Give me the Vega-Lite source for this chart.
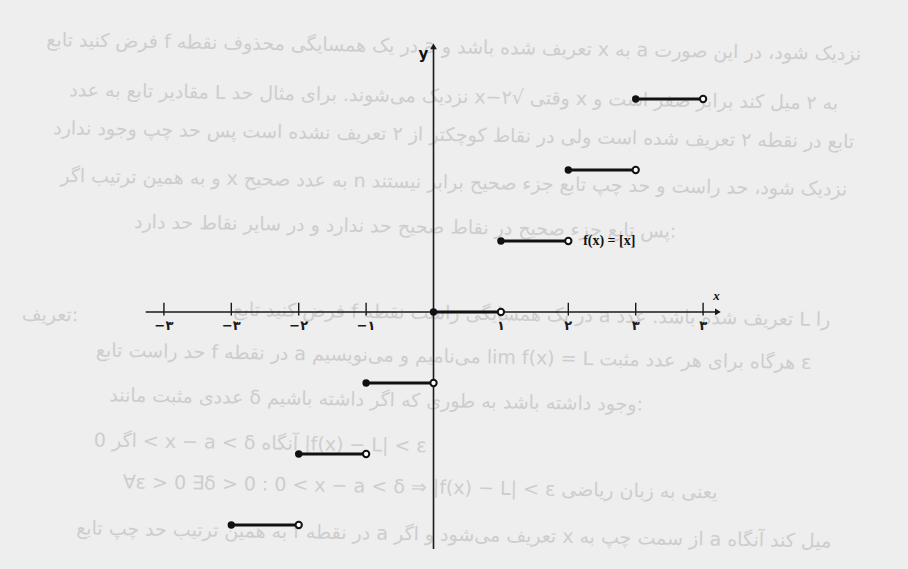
{
  "$schema": "https://vega.github.io/schema/vega-lite/v6.json",
  "width": 908,
  "height": 569,
  "padding": 0,
  "autosize": {"type": "none"},
  "background": "#eeeeee",
  "config": {"view": {"stroke": null}},
  "datasets": {
    "steps": [
      {"x": -3, "x2": -2, "y": -3},
      {"x": -2, "x2": -1, "y": -2},
      {"x": -1, "x2": 0, "y": -1},
      {"x": 0, "x2": 1, "y": 0},
      {"x": 1, "x2": 2, "y": 1},
      {"x": 2, "x2": 3, "y": 2},
      {"x": 3, "x2": 4, "y": 3}
    ],
    "axes": [
      {"x": -4.27, "x2": 4.2, "y": 0, "y2": 0},
      {"x": 0, "x2": 0, "y": -3.34, "y2": 3.72}
    ],
    "arrows": [
      {"x": 4.22, "y": 0, "shape": "triangle-right"},
      {"x": 0, "y": 3.74, "shape": "triangle-up"}
    ],
    "ticks": [
      {"x": -4, "label": "−۳"},
      {"x": -3, "label": "−۳"},
      {"x": -2, "label": "−۲"},
      {"x": -1, "label": "−۱"},
      {"x": 1, "label": "۱"},
      {"x": 2, "label": "۲"},
      {"x": 3, "label": "۳"},
      {"x": 4, "label": "۳"}
    ],
    "page": [
      {"x": 0.3, "y": 3.73, "t": "فرض کنید تابع f در یک همسایگی محذوف نقطه a تعریف شده باشد و x به a نزدیک شود، در این صورت"},
      {"x": 0.3, "y": 3.03, "t": "مقادیر تابع به عدد L نزدیک می‌شوند. برای مثال حد x−۲√ وقتی x به ۲ میل کند برابر صفر است و"},
      {"x": 0.3, "y": 2.49, "t": "تابع در نقطه ۲ تعریف شده است ولی در نقاط کوچکتر از ۲ تعریف نشده است پس حد چپ وجود ندارد"},
      {"x": 0.3, "y": 1.82, "t": "و به همین ترتیب اگر x به عدد صحیح n نزدیک شود، حد راست و حد چپ تابع جزء صحیح برابر نیستند"},
      {"x": -0.42, "y": 1.2, "t": "پس تابع جزء صحیح در نقاط صحیح حد ندارد و در سایر نقاط حد دارد:"},
      {"x": -5.69, "y": -0.04, "t": "تعریف:"},
      {"x": 1.46, "y": -0.04, "t": "فرض کنید تابع f در یک همسایگی راست نقطه a تعریف شده باشد. عدد L را"},
      {"x": 0.3, "y": -0.63, "t": "حد راست تابع f در نقطه a می‌نامیم و می‌نویسیم lim f(x) = L هرگاه برای هر عدد مثبت ε"},
      {"x": -0.85, "y": -1.24, "t": "عددی مثبت مانند δ وجود داشته باشد به طوری که اگر داشته باشیم:"},
      {"x": -2.57, "y": -1.85, "t": "اگر 0 < x − a < δ آنگاه |f(x) − L| < ε"},
      {"x": -0.2, "y": -2.47, "t": "∀ε > 0 ∃δ > 0 : 0 < x − a < δ ⇒ |f(x) − L| < ε یعنی به زبان ریاضی"},
      {"x": 0.3, "y": -3.14, "t": "به همین ترتیب حد چپ تابع f در نقطه a تعریف می‌شود و اگر x از سمت چپ به a میل کند آنگاه"}
    ],
    "labels": [
      {"x": 2.22, "y": 1, "t": "f(x) = [x]"}
    ]
  },
  "encoding": {
    "x": {"type": "quantitative", "scale": {"domain": [-6.432, 7.04], "nice": false, "zero": false}, "axis": null},
    "y": {"type": "quantitative", "scale": {"domain": [-3.62, 4.394], "nice": false, "zero": false}, "axis": null}
  },
  "layer": [
    {
      "data": {"name": "page"},
      "mark": {"type": "text", "font": "DejaVu Sans", "fontSize": 19, "color": "#cdcdcd", "align": "center", "baseline": "middle", "angle": 1.0},
      "encoding": {
        "x": {"field": "x", "type": "quantitative"},
        "y": {"field": "y", "type": "quantitative"},
        "text": {"field": "t"}
      }
    },
    {
      "data": {"name": "axes"},
      "mark": {"type": "rule", "color": "#1a1a1a", "strokeWidth": 1.6},
      "encoding": {
        "x": {"field": "x", "type": "quantitative"},
        "x2": {"field": "x2"},
        "y": {"field": "y", "type": "quantitative"},
        "y2": {"field": "y2"}
      }
    },
    {
      "data": {"name": "arrows"},
      "mark": {"type": "point", "filled": true, "color": "#1a1a1a", "size": 45, "opacity": 1},
      "encoding": {
        "x": {"field": "x", "type": "quantitative"},
        "y": {"field": "y", "type": "quantitative"},
        "shape": {"field": "shape", "type": "nominal", "scale": null}
      }
    },
    {
      "data": {"name": "ticks"},
      "transform": [{"filter": "datum.x != 1"}],
      "mark": {"type": "rule", "color": "#1a1a1a", "strokeWidth": 1.4},
      "encoding": {
        "x": {"field": "x", "type": "quantitative"},
        "y": {"datum": -0.05, "type": "quantitative"},
        "y2": {"datum": 0.13}
      }
    },
    {
      "data": {"name": "ticks"},
      "mark": {"type": "text", "font": "DejaVu Sans", "fontSize": 13, "fontWeight": "bold", "color": "#1a1a1a", "align": "center", "baseline": "middle"},
      "encoding": {
        "x": {"field": "x", "type": "quantitative"},
        "y": {"datum": -0.2, "type": "quantitative"},
        "text": {"field": "label"}
      }
    },
    {
      "data": {"name": "steps"},
      "mark": {"type": "rule", "color": "#111111", "strokeWidth": 3},
      "encoding": {
        "x": {"field": "x", "type": "quantitative"},
        "x2": {"field": "x2"},
        "y": {"field": "y", "type": "quantitative"}
      }
    },
    {
      "data": {"name": "steps"},
      "mark": {"type": "circle", "color": "#111111", "size": 55, "opacity": 1},
      "encoding": {
        "x": {"field": "x", "type": "quantitative"},
        "y": {"field": "y", "type": "quantitative"}
      }
    },
    {
      "data": {"name": "steps"},
      "mark": {"type": "point", "shape": "circle", "filled": false, "fill": "#ffffff", "fillOpacity": 1, "stroke": "#111111", "strokeWidth": 2, "size": 40, "opacity": 1},
      "encoding": {
        "x": {"field": "x2", "type": "quantitative"},
        "y": {"field": "y", "type": "quantitative"}
      }
    },
    {
      "data": {"name": "labels"},
      "mark": {"type": "text", "font": "Liberation Serif", "fontSize": 14, "fontWeight": "bold", "color": "#111111", "align": "left", "baseline": "middle"},
      "encoding": {
        "x": {"field": "x", "type": "quantitative"},
        "y": {"field": "y", "type": "quantitative"},
        "text": {"field": "t"}
      }
    },
    {
      "data": {"values": [{"x": -0.15, "y": 3.64, "t": "y"}]},
      "mark": {"type": "text", "font": "DejaVu Sans", "fontSize": 15, "fontWeight": "bold", "color": "#111111", "align": "center", "baseline": "middle"},
      "encoding": {
        "x": {"field": "x", "type": "quantitative"},
        "y": {"field": "y", "type": "quantitative"},
        "text": {"field": "t"}
      }
    },
    {
      "data": {"values": [{"x": 4.2, "y": 0.22, "t": "x"}]},
      "mark": {"type": "text", "font": "Liberation Serif", "fontSize": 13, "fontStyle": "italic", "fontWeight": "bold", "color": "#111111", "align": "center", "baseline": "middle"},
      "encoding": {
        "x": {"field": "x", "type": "quantitative"},
        "y": {"field": "y", "type": "quantitative"},
        "text": {"field": "t"}
      }
    }
  ]
}
